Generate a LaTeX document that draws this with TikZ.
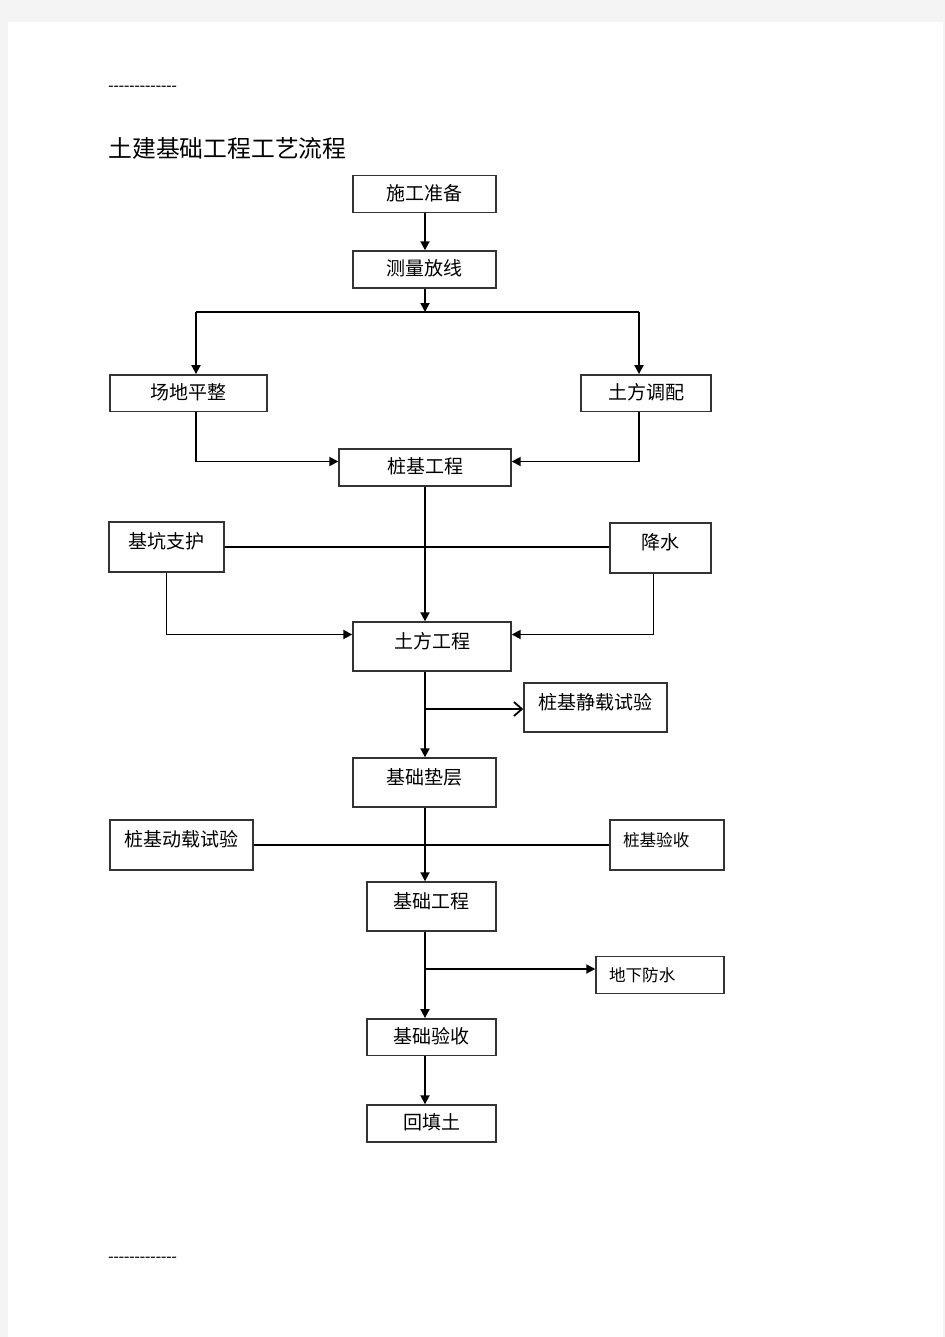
\documentclass[tikz,border=0pt]{standalone}
\usepackage{fontspec}
\usepackage{tikz}
\usetikzlibrary{arrows.meta}
\newfontfamily\cjk{Noto Sans CJK SC}
\newfontfamily\dashfont{Liberation Serif}
\newcommand\hy{-\kern0pt}
\definecolor{pagebg}{HTML}{F4F4F4}

\begin{document}
\begin{tikzpicture}[x=0.5pt,y=-0.5pt,
  box/.style={draw=black!80,line width=0.7pt,inner sep=0pt,font=\cjk\fontsize{9.5}{11}\selectfont},
  short/.style={box,text height=12.4pt,text depth=6.1pt},
  tall/.style={box,text height=13.1pt,text depth=11.9pt},
  plain/.style={align=left,font=\cjk\fontsize{8.3}{10}\selectfont},
  arr/.style={line width=0.9pt,-{Triangle[length=4.5pt,width=4.5pt]}},
  openarr/.style={line width=0.9pt,-{Straight Barb[length=4pt,width=7pt]}},
  ln/.style={line width=0.9pt}]
\useasboundingbox (0,0) rectangle (945,1337);
\fill[pagebg] (0,0) rectangle (945,1337);
\fill[white] (8,22) rectangle (943,1337);
\node[anchor=west,inner sep=0pt,font=\dashfont\fontsize{7.9}{9}\selectfont] (topdash) at (108,88) {\hy\hy\hy\hy\hy\hy\hy\hy\hy\hy\hy\hy\hy};
\node[anchor=west,inner sep=0pt,font=\cjk\fontsize{11.9}{14}\selectfont] (title) at (108,148) {土建基础工程工艺流程};
\node[anchor=west,inner sep=0pt,font=\dashfont\fontsize{7.9}{9}\selectfont] (botdash) at (108,1259) {\hy\hy\hy\hy\hy\hy\hy\hy\hy\hy\hy\hy\hy};
% boxes
\node[short,minimum width=71.5pt,text height=12.6pt] (sgzb) at (424.5,194) {施工准备};
\node[short,minimum width=71.5pt] (clfx) at (424.5,269.5) {测量放线};
\node[short,minimum width=78.5pt,text height=12.1pt] (cdpz) at (188.5,393) {场地平整};
\node[short,minimum width=65pt,text height=12.1pt] (tftp) at (646,393) {土方调配};
\node[short,minimum width=86pt] (zjgc) at (425,467.5) {桩基工程};
\node[tall,minimum width=57.5pt] (jkzh) at (166.5,547) {基坑支护};
\node[tall,minimum width=50.5pt] (js) at (660.5,548) {降水};
\node[tall,minimum width=79pt,text depth=11.4pt] (tfgc) at (432,646.5) {土方工程};
\node[tall,minimum width=71.5pt,text depth=11.4pt] (jzsy) at (595.5,707.5) {桩基静载试验};
\node[tall,minimum width=71.5pt,text depth=11.4pt] (jcdc) at (424.5,782.5) {基础垫层};
\node[tall,minimum width=71.5pt] (dzsy) at (181.5,845) {桩基动载试验};
\node[tall,plain,text width=44pt,inner xsep=6.5pt] (zjys) at (667,845) {桩基验收};
\node[tall,minimum width=64.5pt,text depth=11.4pt] (jcgc) at (431.5,906.5) {基础工程};
\node[short,plain,text width=51pt,inner xsep=6.5pt,text height=12.6pt] (dxfs) at (660,975) {地下防水};
\node[short,minimum width=64.5pt,text height=12.1pt] (jcys) at (431.5,1037) {基础验收};
\node[short,minimum width=64.5pt] (htt) at (431.5,1123.5) {回填土};
% connectors
\coordinate (t) at (425,0);
\coordinate (bl) at (196,312);
\coordinate (bm) at (425,312);
\coordinate (brr) at (639,312);
\coordinate (b2) at (425,709);
\coordinate (b3) at (425,969);
\draw[arr] (t |- sgzb.south) -- (t |- clfx.north);
\draw[arr] (t |- clfx.south) -- (bm);
\draw[ln] (bl) -- (brr);
\draw[arr] (bl) -- (bl |- cdpz.north);
\draw[arr] (brr) -- (brr |- tftp.north);
\draw[arr] (bl |- cdpz.south) |- ([yshift=3pt]zjgc.west);
\draw[arr] (brr |- tftp.south) |- ([yshift=3pt]zjgc.east);
\draw[ln] (jkzh.east) -- (jkzh.east -| js.west);
\draw[arr] (t |- zjgc.south) -- (t |- tfgc.north);
\draw[arr] (jkzh.south) |- ([yshift=6pt]tfgc.west);
\draw[arr] ([xshift=-3.5pt]js.south) |- ([yshift=6pt]tfgc.east);
\draw[arr] (t |- tfgc.south) -- (t |- jcdc.north);
\draw[openarr] (b2) -- (b2 -| jzsy.west);
\draw[ln] (dzsy.east) -- (dzsy.east -| zjys.west);
\draw[arr] (t |- jcdc.south) -- (t |- jcgc.north);
\draw[arr] (t |- jcgc.south) -- (t |- jcys.north);
\draw[arr] (b3) -- (b3 -| dxfs.west);
\draw[arr] (t |- jcys.south) -- (t |- htt.north);
\end{tikzpicture}
\end{document}
